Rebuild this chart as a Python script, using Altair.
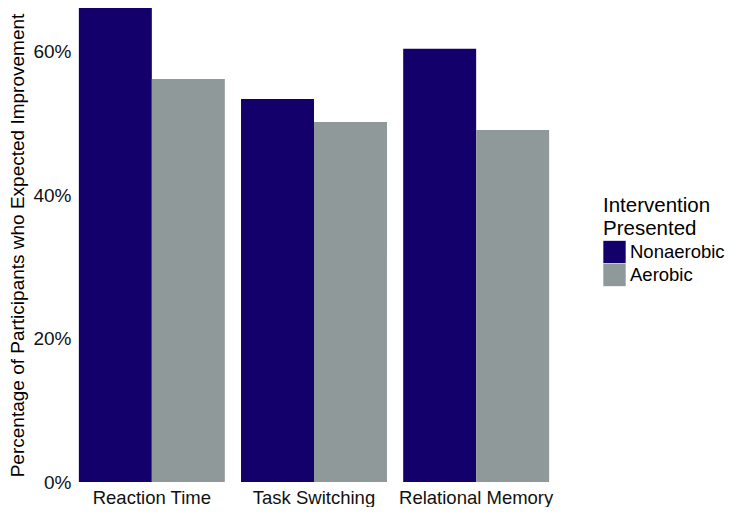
import altair as alt
import pandas as pd

categories = ["Reaction Time", "Task Switching", "Relational Memory"]
groups = ["Nonaerobic", "Aerobic"]
nonaerobic = [0.661, 0.534, 0.604]
aerobic = [0.562, 0.502, 0.491]
colors = ["#13006B", "#8F9999"]

rows = []
for c, v in zip(categories, nonaerobic):
    rows.append({"task": c, "group": "Nonaerobic", "value": v})
for c, v in zip(categories, aerobic):
    rows.append({"task": c, "group": "Aerobic", "value": v})
df = pd.DataFrame(rows)

FONT = "Liberation Sans"

chart = alt.Chart(df).mark_bar().encode(
    x=alt.X("task:N", sort=categories, title=None,
            scale=alt.Scale(paddingInner=0.1, paddingOuter=0.03),
            axis=alt.Axis(labelAngle=0, ticks=False, domain=False, grid=False,
                          labelFontSize=18.5, labelColor="#111", labelPadding=6,
                          labelFont=FONT)),
    xOffset=alt.XOffset("group:N", sort=groups),
    y=alt.Y("value:Q", title="Percentage of Participants who Expected Improvement",
            scale=alt.Scale(domain=[0, 0.661], nice=False, zero=True),
            axis=alt.Axis(values=[0, 0.2, 0.4, 0.6], format=".0%", ticks=False,
                          domain=False, grid=False, labelFontSize=19,
                          labelColor="#111", labelPadding=3, labelFont=FONT,
                          titleFont=FONT, titleFontSize=19, titleFontWeight="normal",
                          titleColor="#000", titlePadding=5)),
    color=alt.Color("group:N", sort=groups,
                    scale=alt.Scale(domain=groups, range=colors),
                    legend=alt.Legend(title=["Intervention", "Presented"],
                                      orient="none", legendX=529, legendY=188,
                                      symbolType="square", symbolSize=500,
                                      symbolStrokeWidth=0, symbolOpacity=1,
                                      labelFontSize=18.5, labelFont=FONT,
                                      labelColor="#000", labelOffset=4,
                                      titleFontSize=20.5, titleFont=FONT,
                                      titleFontWeight="normal", titleColor="#000",
                                      titleLineHeight=23, titlePadding=1,
                                      rowPadding=0, padding=0)),
).properties(
    width=480,
    height=474,
    autosize=alt.AutoSizeParams(type="none"),
    padding={"left": 66, "top": 0, "right": 173, "bottom": 25},
).configure_view(stroke=None)

chart.save("out.html", embed_options={"renderer": "svg", "actions": False})
